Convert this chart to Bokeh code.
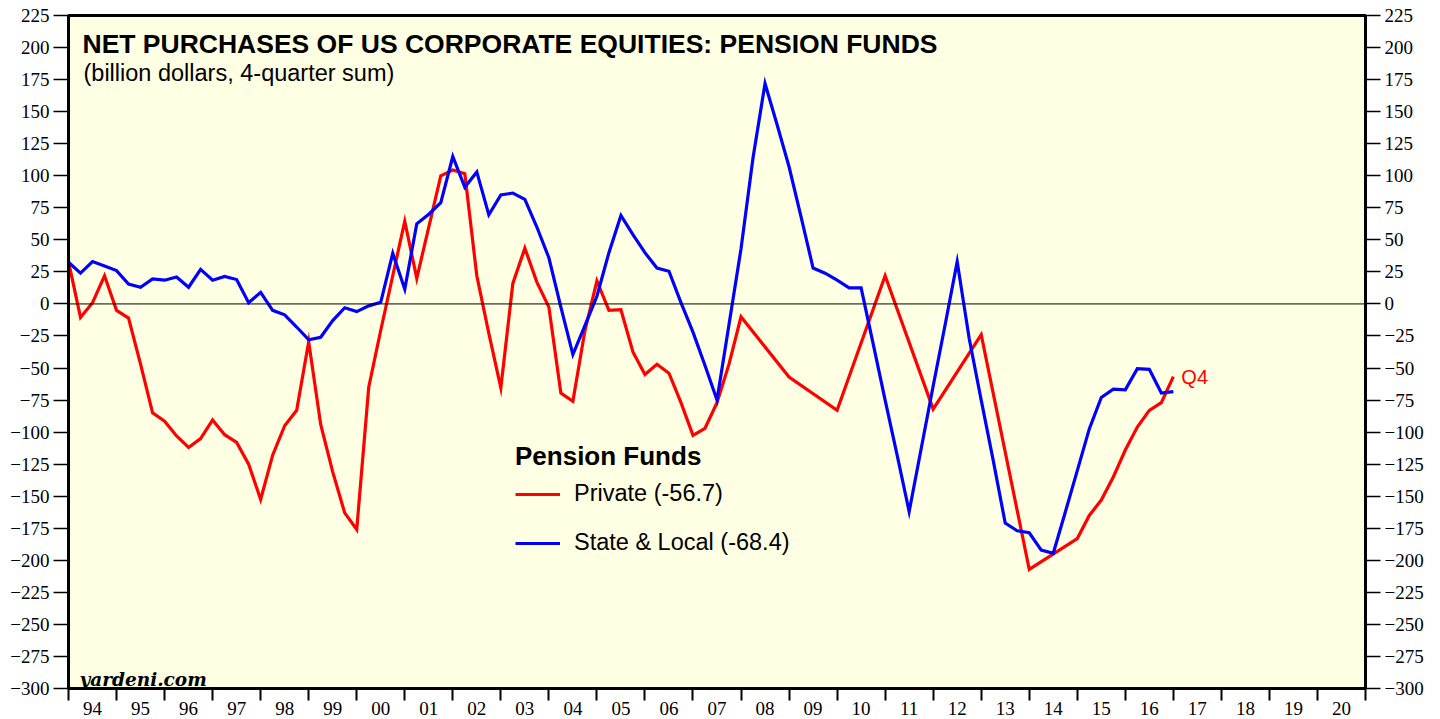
import numpy as np
from bokeh.plotting import figure
from bokeh.models import (Range1d, LinearAxis, FixedTicker, CustomJSTickFormatter,
                          Span, Label, Legend, LegendItem)
from bokeh.embed import file_html
from bokeh.resources import INLINE

# ---------------- data (billion dollars, 4-quarter sum) ----------------
# State & local pension funds: quarterly, 1994.0 .. 2017.0 (position in years)
state_local_t = [1994 + 0.25 * i for i in range(93)]
state_local = [
    32.5, 24, 33, 29.5,            # 1994
    26, 15.5, 13, 19.5,            # 1995
    18.5, 21, 13, 27,              # 1996
    18.5, 21.5, 19, 1,             # 1997
    9, -5, -8.5, -18,              # 1998
    -28, -26, -13, -3,             # 1999
    -6, -1.5, 1.3, 39.5,           # 2000
    11.5, 62.5, 70, 79,            # 2001
    115, 91, 103, 69.5,            # 2002
    85, 86.5, 81.5, 60,            # 2003
    36, -2.5, -39.5, -17,          # 2004
    6, 40, 69, 54,                 # 2005
    40, 28, 25.5, 1,               # 2006
    -22, -48, -75, -16,            # 2007
    43, 114, 172, 140,             # 2008
    107, 68, 28, 24,               # 2009
    18.5, 12.5, 12.5, -31,         # 2010
    -75, -118, -162, -113,         # 2011
    -64, -16, 33, -27,             # 2012
    -75, -122, -171, -177,         # 2013
    -178.5, -192, -194.5, -162.5,  # 2014
    -130, -97.5, -73, -66.5,       # 2015
    -67, -50.5, -51, -69.5,        # 2016
    -68.4,                         # 2017
]

# Private pension funds: quarterly to 2008, annual 2009-2015, quarterly after
private_t = ([1994 + 0.25 * i for i in range(57)]
             + [2009, 2010, 2011, 2012, 2013, 2014, 2015]
             + [2015.25, 2015.5, 2015.75, 2016.0, 2016.25, 2016.5, 2016.75, 2017.0])
private = [
    33, -10.5, 1, 22,              # 1994
    -5, -11, -47, -85,             # 1995
    -91.5, -103, -112, -105,       # 1996
    -90.5, -102, -108, -125,       # 1997
    -152.5, -118, -95, -83,        # 1998
    -29.5, -94, -131, -163,        # 1999
    -176, -65, -20.5, 22,          # 2000
    64.5, 20, 60, 100,             # 2001
    104.5, 101.5, 22, -23,         # 2002
    -65.5, 16, 43.5, 17,           # 2003
    -2.5, -69.5, -76, -21,         # 2004
    18, -5, -4.5, -37.5,           # 2005
    -55, -47, -54, -77,            # 2006
    -102.5, -97, -77, -47,         # 2007
    -10,                           # 2008
    -57, -83, 22, -82, -24, -207, -183,   # 2009-2015 annual
    -165, -153, -135, -114, -96, -83, -77, -56.7,
]

years = list(range(1994, 2021))
year_labels = [f"{y % 100:02d}" for y in years]
y_ticks = list(range(-300, 226, 25))

RED = "#FF0000"
BLUE = "#0000FF"
SANS = "Liberation Sans"
SERIF = "Liberation Serif"

p = figure(width=1440, height=719,
           x_range=Range1d(1994, 2021), y_range=Range1d(-300, 225),
           output_backend="svg", toolbar_location=None,
           min_border_left=68, min_border_right=75,
           min_border_top=15, min_border_bottom=31,
           background_fill_color="#FFFFE3", border_fill_color="white",
           outline_line_color="black", outline_line_width=3)
p.grid.visible = False

# ---- x axis: labels centred in each year, ticks at year boundaries ----
xt = FixedTicker(ticks=[y + 0.5 for y in years], minor_ticks=years + [2021])
xa = p.xaxis[0]
xa.ticker = xt
xa.formatter = CustomJSTickFormatter(
    code="const y = Math.floor(tick) % 100; return (y < 10 ? '0' : '') + y;")
xa.major_tick_out = 0
xa.major_tick_in = 0
xa.minor_tick_out = 12
xa.minor_tick_in = 0
xa.minor_tick_line_width = 2
xa.minor_tick_line_color = "black"
xa.axis_line_width = 3
xa.axis_line_color = "black"
xa.major_label_standoff = 1
xa.major_label_text_font = SERIF
xa.major_label_text_font_size = "19px"
xa.major_label_text_color = "black"


def style_y(ax):
    ax.ticker = FixedTicker(ticks=y_ticks)
    ax.major_tick_out = 15
    ax.major_tick_in = 0
    ax.minor_tick_out = 0
    ax.minor_tick_in = 0
    ax.major_tick_line_width = 1.5
    ax.major_tick_line_color = "black"
    ax.axis_line_width = 3
    ax.axis_line_color = "black"
    ax.major_label_standoff = 4
    ax.major_label_text_font = SERIF
    ax.major_label_text_font_size = "19px"
    ax.major_label_text_color = "black"


style_y(p.yaxis[0])
right_axis = LinearAxis()
style_y(right_axis)
p.add_layout(right_axis, "right")

# ---- zero line ----
p.add_layout(Span(location=0, dimension="width", line_color="black", line_width=1))

# ---- series ----
r_priv = p.line(private_t, private, line_color=RED, line_width=3.2, line_join="miter")
r_state = p.line(state_local_t, state_local, line_color=BLUE, line_width=3.2, line_join="miter")

# ---- legend ----
legend = Legend(
    items=[LegendItem(label=f"Private ({private[-1]:.1f})", renderers=[r_priv]),
           LegendItem(label=f"State & Local ({state_local[-1]:.1f})", renderers=[r_state])],
    title="Pension Funds", location=(447, 132),
    title_text_font=SANS, title_text_font_style="bold", title_text_font_size="26px",
    title_text_color="black", title_standoff=8,
    label_text_font=SANS, label_text_font_size="23.5px", label_text_color="black",
    glyph_width=45, glyph_height=26, label_height=26, label_standoff=14,
    spacing=22, padding=0, margin=0,
    background_fill_alpha=0, border_line_alpha=0)
p.add_layout(legend)

# ---- texts ----
p.add_layout(Label(x=1994, y=225, x_offset=14, y_offset=-28,
                   text="NET PURCHASES OF US CORPORATE EQUITIES: PENSION FUNDS",
                   text_font=SANS, text_font_style="bold", text_font_size="26.5px",
                   text_baseline="alphabetic", text_color="black"))
p.add_layout(Label(x=1994, y=225, x_offset=15, y_offset=-57,
                   text="(billion dollars, 4-quarter sum)",
                   text_font=SANS, text_font_size="23.5px",
                   text_baseline="alphabetic", text_color="black"))
p.add_layout(Label(x=1994, y=-300, x_offset=11, y_offset=9,
                   text="yardeni.com",
                   text_font="DejaVu Serif", text_font_style="bold italic",
                   text_font_size="18.5px", text_baseline="alphabetic", text_color="black"))
p.add_layout(Label(x=private_t[-1], y=private[-1], x_offset=8, y_offset=0,
                   text="Q4", text_font=SANS, text_font_size="20px",
                   text_baseline="middle", text_color=RED))

open("out.html", "w").write(file_html(p, INLINE))
